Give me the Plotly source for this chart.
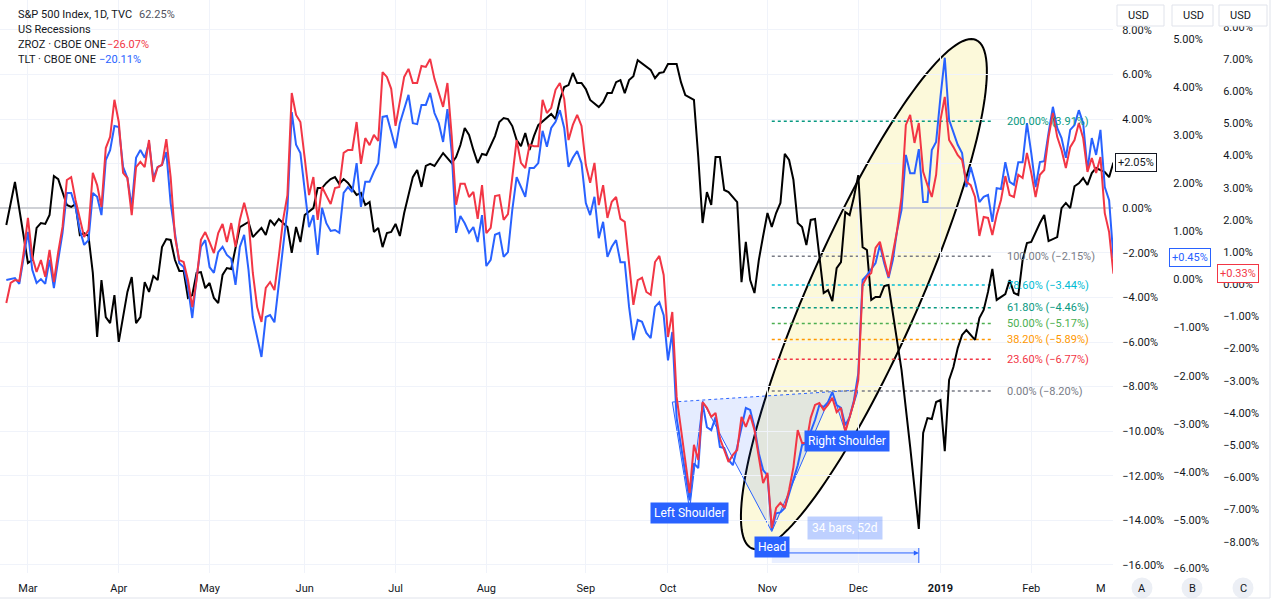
import numpy as np
import plotly.graph_objects as go

# ---------------- data (x = trading-bar index, 0 = 1 Mar 2018) ----------------
MONTH_NAMES = ["Mar", "Apr", "May", "Jun", "Jul", "Aug", "Sep", "Oct", "Nov", "Dec", "<b>2019</b>", "Feb"]
MONTH_TRADING_DAYS = [21, 21, 22, 21, 21, 23, 19, 23, 21, 19, 21]

SPX_BAR = [-5, -3, 0, 1, 2, 3, 4, 5, 6, 7, 9, 10, 11, 12, 13, 14, 15, 16, 17, 18, 19, 20, 21, 23, 24, 25, 26, 27, 28, 29, 30,
           31, 32, 33, 34, 35, 36, 37, 38, 39, 40, 41, 42, 43, 44, 45, 46, 47, 49, 51, 52, 54, 55, 56, 57, 58, 60, 61, 62, 63,
           64, 66, 67, 68, 69, 70, 71, 72, 73, 74, 76, 77, 78, 79, 80, 81, 82, 83, 84, 85, 86, 87, 89, 90, 91, 92, 93, 94, 96,
           97, 98, 99, 100, 101, 102, 103, 104, 105, 106, 108, 109, 110, 111, 112, 113, 114, 115, 116, 117, 118, 120, 121, 122,
           123, 124, 125, 126, 127, 128, 129, 130, 132, 133, 134, 135, 136, 137, 138, 139, 140, 141, 143, 144, 145, 146, 147,
           148, 150, 151, 152, 154, 155, 156, 157, 158, 159, 160, 161, 162, 164, 165, 166, 167, 168, 169, 170, 171, 172, 173,
           174, 175, 176, 177, 178, 179, 180, 181, 182, 184, 185, 186, 187, 188, 189, 190, 191, 192, 193, 194, 195, 196, 197,
           198, 199, 202, 204, 206, 207, 208, 209, 210, 211, 212, 213, 214, 215, 216, 217, 219, 220, 221, 222, 223, 224, 225,
           226, 227, 228, 229, 230, 231, 232, 234, 235, 236, 238, 239, 240, 241, 242, 243, 244, 245, 246, 247, 248, 249, 250, 251]
SPX_PCT = [-0.75, 1.18, -2.45, -2.32, -0.88, -0.66, -0.70, -0.30, 1.45, 1.31, 0.15, 0.06, 0.19, -1.20, -1.11, -1.24, -2.90,
           -5.77, -3.22, -4.88, -5.15, -3.89, -5.99, -3.75, -3.08, -5.15, -4.88, -3.31, -3.75, -3.04, -3.22,
           -1.74, -1.38, -1.42, -2.32, -2.81, -2.81, -4.02, -3.89, -2.90, -2.86, -3.58, -3.35, -4.02, -4.25, -2.99, -2.68,
           -2.72, -0.84, -0.61, -1.29, -0.88, -1.20, -0.52, -0.75, -0.48, -0.84, -2.00, -0.84, -1.51,
           -0.30, 0.01, 0.91, 0.91, 1.14, 1.31, 1.40, 1.09, 1.31, 1.14, 0.60, 0.69, 0.15, 0.28, -1.06, -0.88, -1.74, -1.11,
           -1.06, -0.70, -1.24, -0.21, 1.40, 1.72, 0.96, 1.90, 1.99, 1.90, 2.48,
           2.26, 2.03, 2.30, 2.84, 3.60, 3.29, 2.62, 2.03, 2.44, 2.39, 3.24, 3.87, 4.05, 4.00, 3.69, 3.06, 2.79, 3.38, 2.62,
           3.24, 3.73, 4.09, 4.23, 4.00,
           4.86, 5.44, 5.53, 6.07, 5.62, 5.62, 5.35, 4.86, 4.54, 4.76, 5.17, 5.17, 5.66, 5.75, 5.17, 5.75, 5.93, 6.65, 6.34,
           6.21, 5.84, 6.07, 6.11,
           6.47, 6.47, 5.66, 5.08, 4.86, 2.30, -0.66, 0.73, 0.15, 2.30, 2.30, 0.82, 0.73, 0.28, -3.31, -1.51, -3.22, -3.80,
           -2.32, -1.24, -0.21, -0.84, -0.21,
           0.24, 2.44, 2.17, 1.28, -0.66, -0.84, -1.65, -0.52, -0.48, -3.80, -3.67, -4.16, -2.68, -2.41, -0.17, -0.30, 0.51,
           1.49, -1.74, -1.87, -4.11, -3.98, -3.98,
           -3.49, -3.44, -7.25, -10.70, -14.38, -10.08, -9.41, -9.45, -8.69, -8.60, -10.89, -7.70, -7.12, -6.27, -5.68, -5.46,
           -5.90, -4.92, -4.56, -3.75, -2.72, -4.11, -3.98,
           -3.85, -3.22, -3.80, -3.89, -2.32, -1.56, -1.51, -0.66, -0.30, -1.47, -1.29, 0.01, 0.24, 0.01, 0.99, 1.12, 1.36,
           1.05, 1.58, 1.81, 1.72, 1.63, 1.40, 2.05]

TLT_BAR = [-5, -3, -2, -1] + list(range(0, 34)) + list(range(35, 53)) + list(range(54, 151)) + list(range(153, 181)) + \
          list(range(182, 195)) + list(range(196, 252))
TLT_PCT = [-0.01, 0.03, -0.09, 0.41,
           0.99, 0.20, -0.07, 0.01, -0.09, 0.41, -0.18, 0.41, 0.97, 1.80, 1.80, 1.51, 1.03, 0.72, 0.82, 1.80, 1.72, 1.34,
           2.48, 2.69, 3.19, 3.17, 2.34, 2.11, 1.51, 2.53, 2.69, 2.53, 2.84, 2.11, 2.34, 2.38, 2.65, 1.59,
           0.34, 0.26, -0.16, -0.80, 0.05, 0.68, 0.82, 0.26, 0.14, 0.57, 0.68, 0.51, 0.43, -0.11, 0.68, 0.93, 0.20, -0.78,
           -1.61, -0.78, -0.74, -0.89, -0.16, 0.68, 1.45, 3.48, 2.80, 2.63, 1.86, 1.09, 1.34, 0.51, 1.49, 1.17, 1.01, 1.03,
           0.97, 1.80, 1.92, 1.82, 2.42, 1.51, 2.03, 2.03, 2.24, 2.42, 3.38, 3.40, 3.07, 2.73, 3.25, 3.52, 3.84, 3.25, 3.23,
           3.63, 3.63, 3.88, 3.46, 3.25, 2.86, 3.54, 2.63, 0.97, 1.32, 1.17, 0.97, 1.09, 0.78, 1.34, 0.28, 0.41, 0.93, 0.97,
           0.47, 0.57, 1.45, 2.13, 1.92, 1.72, 2.32, 2.32, 2.42, 3.09, 2.76, 3.15, 3.28, 3.52, 3.15, 2.34, 2.53, 2.67, 2.42,
           1.59, 1.34, 1.72, 0.86, 1.20, 0.47, 0.68, 0.82, 0.36, 0.36, -0.57, -1.26, -0.84, -0.88, -1.11, -1.22, -0.57,
           -0.47, -0.74, -1.68, -1.09, -2.88,
           -4.59, -3.82, -3.92, -2.57, -3.07, -3.13, -2.86, -3.48, -3.50, -3.75, -3.86, -3.48, -3.07, -2.67, -2.71, -3.07,
           -3.61, -3.96, -4.07, -5.21, -4.86, -4.84, -4.75, -4.44, -4.17, -3.86, -3.44, -3.40,
           -2.92, -2.61, -2.65, -2.55, -2.34, -2.61, -2.67, -3.03, -2.86, -2.51, -1.95, -0.01, 0.09,
           0.34, 0.72, 0.34, 0.03, 0.41, 1.03, 1.45, 2.59, 2.21, 2.21, 2.71, 1.61, 1.61, 2.69, 2.86, 3.79, 4.61, 3.32, 3.05,
           2.80, 2.63, 1.92, 2.34, 2.01, 1.61, 1.72, 1.76, 1.20, 1.90, 1.88, 2.44, 2.03, 1.97, 2.44, 2.44, 3.25, 2.63, 1.92,
           2.44, 2.46, 3.05, 3.59, 3.15, 2.94, 2.53, 3.11, 3.21, 3.52, 3.25, 2.28, 2.94, 2.59, 3.11, 1.92, 1.65, 0.45]

ZROZ_BAR = list(range(-5, 151)) + list(range(153, 252))
ZROZ_PCT = [-0.58, 0.04, 0.13, 0.10, 0.97,
            2.06, 0.85, 0.38, 0.75, 0.23, 1.07, 0.07, 1.00, 1.78, 3.24, 3.33, 2.62, 2.09, 1.47, 1.69, 3.46, 3.08, 2.40,
            4.23, 4.58, 5.73, 5.04, 3.46, 3.30, 2.15, 3.64, 3.80, 3.64, 4.48, 3.18, 3.64, 3.71, 4.51, 3.33, 1.47, 0.75,
            0.69, 0.13, -0.71, 0.13, 1.38, 1.62, 1.31, 0.97, 1.59, 1.87, 1.31, 1.90, 1.16, 2.00, 2.53, 2.00, 0.35, -0.71,
            -1.17, -0.11, 0.07, -0.18, 0.85, 2.00, 2.77, 5.94, 5.26, 5.04, 3.92, 2.77, 3.33, 2.00, 3.02, 2.77, 2.49, 2.99,
            3.02, 4.08, 4.17, 4.17, 5.04, 3.74, 4.54, 4.32, 4.64, 4.45, 6.59, 6.44, 6.07, 4.92, 5.63, 6.44, 6.69, 6.25,
            6.25, 6.78, 6.75, 7.00, 6.38, 5.98, 5.51, 6.25, 4.58, 2.47, 3.12, 3.12, 2.71, 2.87, 2.03, 3.08, 1.59, 1.75,
            2.74, 2.77, 2.00, 2.18, 3.40, 4.48, 3.77, 3.61, 4.33, 4.29, 4.29, 5.73, 5.32, 5.48, 6.04, 6.25, 5.76, 4.48,
            4.95, 5.26, 4.92, 3.71, 3.15, 3.77, 2.46, 3.08, 2.06, 2.56, 2.71, 2.03, 1.94, 0.75, -0.64, 0.13, 0.20, -0.24,
            -0.33, 0.69, 0.88, 0.29, -1.64, -0.86, -3.50,
            -6.48, -4.99, -5.46, -3.66, -3.84, -4.12, -4.00, -4.78, -5.15, -5.52, -5.30, -5.15, -4.12, -4.43, -4.06,
            -4.53, -5.37, -6.18, -5.86, -7.57, -6.95, -6.79, -6.95, -6.39, -5.68, -4.53, -4.93, -4.93, -4.15, -3.75,
            -3.69, -3.91, -3.75, -3.53, -3.97, -3.84, -4.59, -4.12, -3.66, -2.97, -0.02, 0.23, 0.35, 1.13, 1.32, 0.76,
            0.23, 0.97, 1.69, 2.71, 4.95, 5.26, 4.39, 5.01, 3.49, 3.08, 2.71, 3.40, 5.10, 5.82, 4.48, 4.26, 4.01, 3.86,
            3.18, 3.08, 2.71, 1.50, 2.09, 2.06, 1.53, 2.15, 2.62, 3.36, 2.77, 2.71, 3.40, 3.30, 4.08, 3.46, 2.71, 3.40,
            3.55, 4.58, 5.32, 4.58, 4.17, 3.61, 4.26, 4.48, 5.01, 4.54, 3.49, 3.92, 3.46, 3.95, 2.21, 1.62, 0.33]

A_TICKS = list(range(-16, 9, 2))
B_TICKS = list(range(-6, 6))
C_TICKS = list(range(-8, 9))

FIB_LEVEL = ["200.00%", "100.00%", "78.60%", "61.80%", "50.00%", "38.20%", "23.60%", "0.00%"]
FIB_VALUE = [3.91, -2.15, -3.44, -4.46, -5.17, -5.89, -6.77, -8.20]
FIB_COLOR = ["#089981", "#787b86", "#00bcd4", "#089981", "#4caf50", "#ff9800", "#f23645", "#787b86"]

HS_BAR = [149, 153, 156, 172, 186, 189, 192]
HS_VAL = [-8.69, -13.52, -8.65, -14.50, -8.24, -10.03, -8.15]

LAST_SPX, LAST_TLT, LAST_ZROZ = 2.05, 0.45, 0.33

BLACK, BLUE, RED = "#000000", "#2962ff", "#f23645"
TXT = "#131722"
W, H, B_MARGIN = 1280, 604, 31
PH = H - B_MARGIN


def pct(v):
    return ("−" if v < 0 else "") + f"{abs(v):.2f}%"


def px_x(p):
    return p / W


def px_y(p):
    return 1 - p / PH


month_starts = [0] + list(np.cumsum(MONTH_TRADING_DAYS))

fig = go.Figure()
fig.add_trace(go.Scatter(x=SPX_BAR, y=SPX_PCT, mode="lines", line=dict(color=BLACK, width=2), yaxis="y"))
fig.add_trace(go.Scatter(x=TLT_BAR, y=TLT_PCT, mode="lines", line=dict(color=BLUE, width=2), yaxis="y2"))
fig.add_trace(go.Scatter(x=ZROZ_BAR, y=ZROZ_PCT, mode="lines", line=dict(color=RED, width=2), yaxis="y3"))

shapes = []
ann = []

# ellipse drawing (center + conjugate semi-diameters, in axis units)
ELL_C = (193.3, -3.85)
ELL_U = (25.95, 11.40)
ELL_V = (11.63, -1.00)
t = np.linspace(0, 2 * np.pi, 145)
ex = ELL_C[0] + ELL_U[0] * np.cos(t) + ELL_V[0] * np.sin(t)
ey = ELL_C[1] + ELL_U[1] * np.cos(t) + ELL_V[1] * np.sin(t)
epath = "M " + " L ".join(f"{a:.3f},{b:.3f}" for a, b in zip(ex, ey)) + " Z"
shapes.append(dict(type="path", path=epath, xref="x", yref="y", layer="below",
                   fillcolor="rgba(245,235,140,0.32)", line=dict(color="#000000", width=2)))

# head & shoulders
poly = "M " + " L ".join(f"{a},{b}" for a, b in zip(HS_BAR, HS_VAL))
shapes.append(dict(type="path", path=poly + " Z", xref="x", yref="y", layer="below",
                   fillcolor="rgba(41,98,255,0.12)", line=dict(width=0)))
shapes.append(dict(type="path", path=poly, xref="x", yref="y", layer="below",
                   fillcolor="rgba(0,0,0,0)", line=dict(color=BLUE, width=1)))
shapes.append(dict(type="line", xref="x", yref="y", x0=HS_BAR[0], y0=HS_VAL[0], x1=HS_BAR[-1], y1=HS_VAL[-1],
                   layer="below", line=dict(color=BLUE, width=1, dash="dot")))

# fibonacci
for lvl, val, col in zip(FIB_LEVEL, FIB_VALUE, FIB_COLOR):
    shapes.append(dict(type="line", xref="x", yref="y", x0=172, x1=223, y0=val, y1=val, layer="below",
                       line=dict(color=col, width=1.5, dash="dot")))
    ann.append(dict(x=226, y=val, xref="x", yref="y", text=f"{lvl} ({pct(val)})", showarrow=False,
                    xanchor="left", yanchor="middle", font=dict(size=11, color=col)))

# date range tool
shapes.append(dict(type="rect", xref="x", yref="y", x0=172, x1=206, y0=-15.24, y1=-15.91, layer="below",
                   fillcolor="rgba(41,98,255,0.1)", line=dict(width=0)))
shapes.append(dict(type="line", xref="x", yref="y", x0=206, x1=206, y0=-15.24, y1=-15.91,
                   line=dict(color=BLUE, width=1)))
ann.append(dict(x=206, y=-15.46, ax=172, ay=-15.46, xref="x", yref="y", axref="x", ayref="y", text="",
                showarrow=True, arrowhead=2, arrowsize=1, arrowwidth=1, arrowcolor=BLUE))
ann.append(dict(x=189, y=-14.32, xref="x", yref="y", text="34 bars, 52d", showarrow=False,
                bgcolor="rgba(41,98,255,0.3)", borderpad=4, font=dict(size=12, color="white")))

# pattern labels
for txt, xb, yv in [("Left Shoulder", 153, -13.67), ("Head", 172, -15.20), ("Right Shoulder", 189.5, -10.44)]:
    ann.append(dict(x=xb, y=yv, xref="x", yref="y", text=txt, showarrow=False, bgcolor=BLUE,
                    borderpad=3, font=dict(size=12, color="white")))

# last-value tags on price scales
ann.append(dict(x=px_x(1115), y=LAST_SPX, xref="paper", yref="y", text="+" + pct(LAST_SPX), showarrow=False,
                xanchor="left", yanchor="middle", bgcolor="white", bordercolor=TXT, borderwidth=1, borderpad=2,
                font=dict(size=11, color=TXT)))
ann.append(dict(x=px_x(1169), y=LAST_TLT, xref="paper", yref="y2", text="+" + pct(LAST_TLT), showarrow=False,
                xanchor="left", yanchor="middle", bgcolor="white", bordercolor=BLUE, borderwidth=1, borderpad=2,
                font=dict(size=11, color=BLUE)))
ann.append(dict(x=px_x(1217), y=LAST_ZROZ, xref="paper", yref="y3", text="+" + pct(LAST_ZROZ), showarrow=False,
                xanchor="left", yanchor="middle", bgcolor="white", bordercolor=RED, borderwidth=1, borderpad=2,
                font=dict(size=11, color=RED)))

# legend text
legend_rows = [("S&P 500 Index, 1D, TVC", "62.25%", "#50535e", 137, 15),
               ("US Recessions", "", TXT, 0, 30),
               ("ZROZ · CBOE ONE", "−26.07%", RED, 105, 44),
               ("TLT · CBOE ONE", "−20.11%", BLUE, 97, 59)]
for name, val, col, vx, ry in legend_rows:
    ann.append(dict(x=px_x(16), y=px_y(ry), xref="paper", yref="paper", text=name, showarrow=False,
                    xanchor="left", yanchor="middle", font=dict(size=11, color=TXT)))
    if val:
        ann.append(dict(x=px_x(vx), y=px_y(ry), xref="paper", yref="paper", text=val, showarrow=False,
                        xanchor="left", yanchor="middle", font=dict(size=11, color=col)))

# USD buttons
for x0, x1 in [(1117, 1164), (1172, 1213), (1219, 1267)]:
    shapes.append(dict(type="rect", xref="paper", yref="paper", x0=px_x(x0), x1=px_x(x1), y0=px_y(26), y1=px_y(5),
                       fillcolor="white", line=dict(color="#e0e3eb", width=1), layer="above"))
    ann.append(dict(x=px_x(x0 + 9), y=px_y(15.5), xref="paper", yref="paper", text="USD", showarrow=False,
                    xanchor="left", yanchor="middle", font=dict(size=11, color=TXT)))

# A/B/C scale buttons & the truncated March label
for letter, cx in [("A", 1142), ("B", 1192), ("C", 1243)]:
    shapes.append(dict(type="circle", xref="paper", yref="paper", x0=px_x(cx - 10.5), x1=px_x(cx + 10.5),
                       y0=px_y(598.5), y1=px_y(577.5), fillcolor="#eceff5", line=dict(width=0)))
    ann.append(dict(x=px_x(cx), y=px_y(588), xref="paper", yref="paper", text=letter, showarrow=False,
                    xanchor="center", yanchor="middle", font=dict(size=11, color=TXT)))
ann.append(dict(x=px_x(1101), y=px_y(588), xref="paper", yref="paper", text="M", showarrow=False,
                xanchor="center", yanchor="middle", font=dict(size=11, color=TXT)))

# widget borders
shapes.append(dict(type="line", xref="paper", yref="paper", x0=px_x(1270), x1=px_x(1270), y0=px_y(0), y1=px_y(598),
                   line=dict(color="#e0e3eb", width=1)))
shapes.append(dict(type="line", xref="paper", yref="paper", x0=0, x1=px_x(1270), y0=px_y(598), y1=px_y(598),
                   line=dict(color="#e0e3eb", width=1)))

# the 2.00% label of the main scale sits under the +2.05% tag
a_text = ["" if v == 2 else pct(v) for v in A_TICKS]

fig.update_layout(
    width=W, height=H, margin=dict(l=0, r=0, t=0, b=B_MARGIN),
    paper_bgcolor="white", plot_bgcolor="white", showlegend=False,
    font=dict(family="Roboto, sans-serif", size=11, color=TXT),
    xaxis=dict(domain=[0, 1113 / W], range=[-6.46, 250.9], tickvals=month_starts, ticktext=MONTH_NAMES,
               showgrid=True, gridcolor="#f0f3fa", gridwidth=1, zeroline=False, showline=False,
               ticks="outside", ticklen=5, tickcolor="rgba(0,0,0,0)", tickfont=dict(size=11, color=TXT)),
    yaxis=dict(side="right", range=[-16.36, 9.345], tickvals=A_TICKS, ticktext=a_text,
               showgrid=True, gridcolor="#f0f3fa", zeroline=True, zerolinecolor="#cfd1d6", zerolinewidth=2,
               ticks="outside", ticklen=6, tickcolor="rgba(0,0,0,0)", showline=False,
               tickfont=dict(size=11, color=TXT)),
    yaxis2=dict(side="right", overlaying="y", anchor="free", position=1166 / W, range=[-6.10, 5.81],
                tickvals=B_TICKS, ticktext=[pct(v) for v in B_TICKS], showgrid=False, zeroline=False,
                ticks="outside", ticklen=4, tickcolor="rgba(0,0,0,0)", showline=False,
                tickfont=dict(size=11, color=TXT)),
    yaxis3=dict(side="right", overlaying="y", anchor="free", position=1216 / W, range=[-8.97, 8.83],
                tickvals=C_TICKS, ticktext=[pct(v) for v in C_TICKS], showgrid=False, zeroline=False,
                ticks="outside", ticklen=4, tickcolor="rgba(0,0,0,0)", showline=False,
                tickfont=dict(size=11, color=TXT)),
    shapes=shapes, annotations=ann,
)

fig.write_html("out.html", config={"displayModeBar": False})
